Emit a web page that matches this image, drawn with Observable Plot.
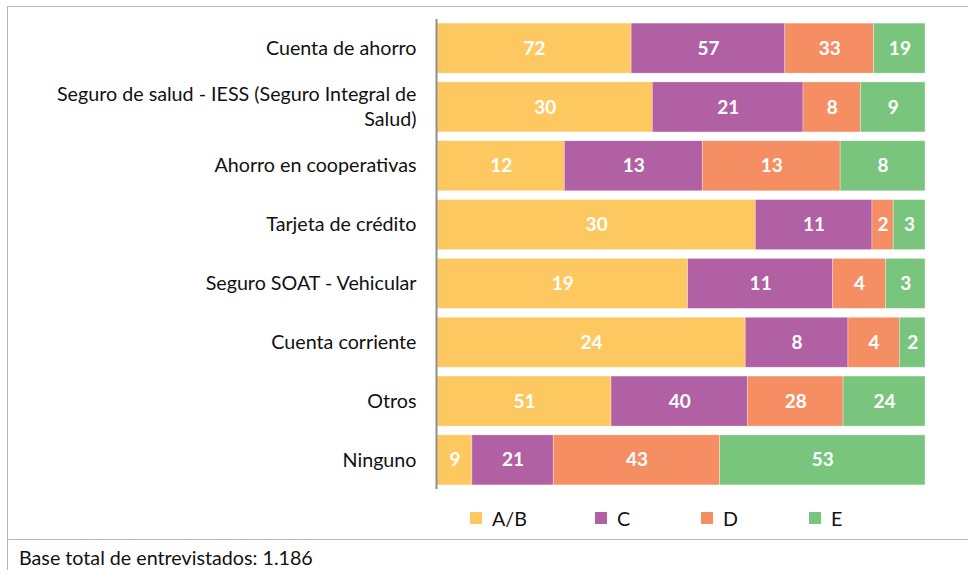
<!DOCTYPE html>
<html>
<head>
<meta charset="utf-8">
<script src="https://cdn.jsdelivr.net/npm/d3@7"></script>
<script src="https://cdn.jsdelivr.net/npm/@observablehq/plot@0.6"></script>
<style>
  html, body { margin: 0; padding: 0; background: #fff; overflow: hidden; }
  #wrap { position: relative; width: 968px; height: 570px; font-family: Lato, "Open Sans", sans-serif; }
  #box { position: absolute; left: 7px; top: 6px; width: 980px; height: 534px; border: 1.5px solid #b5b5b5; box-sizing: border-box; }
  #foot { position: absolute; left: 7px; top: 539px; width: 980px; height: 40px; border-left: 1.5px solid #b5b5b5; box-sizing: border-box; }
  #foottext { position: absolute; left: 19px; top: 546px; font-size: 19.7px; color: #111; white-space: nowrap; }
  #chart { position: absolute; left: 0; top: 0; }
  .lg { position: absolute; top: 506px; font-size: 19.7px; color: #111; display: flex; align-items: center; height: 24px; }
  .lg span.sw { display: inline-block; width: 12px; height: 12px; margin-right: 10px; }
</style>
</head>
<body>
<div id="wrap">
  <div id="box"></div>
  <div id="foot"></div>
  <div id="foottext"></div>
  <div id="chart"></div>
  <div id="legend"></div>
</div>
<script>
const categories = [
  "Cuenta de ahorro",
  "Seguro de salud - IESS (Seguro Integral de Salud)",
  "Ahorro en cooperativas",
  "Tarjeta de crédito",
  "Seguro SOAT - Vehicular",
  "Cuenta corriente",
  "Otros",
  "Ninguno"
];
const segments = ["A/B", "C", "D", "E"];
const colors = ["#FEC861", "#B160A4", "#F58F63", "#79C57E"];
const valuesAB = [72, 30, 12, 30, 19, 24, 51, 9];
const valuesC  = [57, 21, 13, 11, 11, 8, 40, 21];
const valuesD  = [33, 8, 13, 2, 4, 4, 28, 43];
const valuesE  = [19, 9, 8, 3, 3, 2, 24, 53];
const footer = "Base total de entrevistados: 1.186";

const series = [valuesAB, valuesC, valuesD, valuesE];
const data = [];
categories.forEach((c, i) => {
  segments.forEach((s, j) => data.push({category: c, segment: s, value: series[j][i]}));
});

const wrapLabel = d => d.replace(" Salud)", "\nSalud)");

const chart = Plot.plot({
  width: 968,
  height: 500,
  marginLeft: 437,
  marginRight: 43,
  marginTop: 19,
  marginBottom: 11,
  style: {fontFamily: "Lato, 'Open Sans', sans-serif", background: "transparent"},
  x: {domain: [0, 1], axis: null},
  y: {domain: categories, paddingInner: 0.15, paddingOuter: 0.07, round: false, label: null},
  color: {domain: segments, range: colors},
  marks: [
    Plot.barX(data, Plot.stackX({
      offset: "normalize", x: "value", y: "category", fill: "segment",
      order: segments, stroke: "white", strokeWidth: 0.6, strokeOpacity: 0.5
    })),
    Plot.text(data, Plot.stackX({
      offset: "normalize", x: "value", y: "category", z: "segment", order: segments,
      text: d => String(d.value), fill: "white", fontWeight: "bold", fontSize: 19
    })),
    Plot.axisY({
      tickSize: 0, tickPadding: 21, fontSize: 19.7, fill: "#111",
      tickFormat: wrapLabel, lineHeight: 1.3, label: null, dy: -2
    }),
    Plot.ruleX([0], {stroke: "#8e8e8e", strokeWidth: 2, dx: -1})
  ]
});
document.getElementById("chart").appendChild(chart);

const legendLeft = [470, 595, 701, 809];
const lg = document.getElementById("legend");
segments.forEach((s, i) => {
  const d = document.createElement("div");
  d.className = "lg";
  d.style.left = legendLeft[i] + "px";
  d.innerHTML = `<span class="sw" style="background:${colors[i]}"></span><span>${s}</span>`;
  lg.appendChild(d);
});
document.getElementById("foottext").textContent = footer;
</script>
</body>
</html>
